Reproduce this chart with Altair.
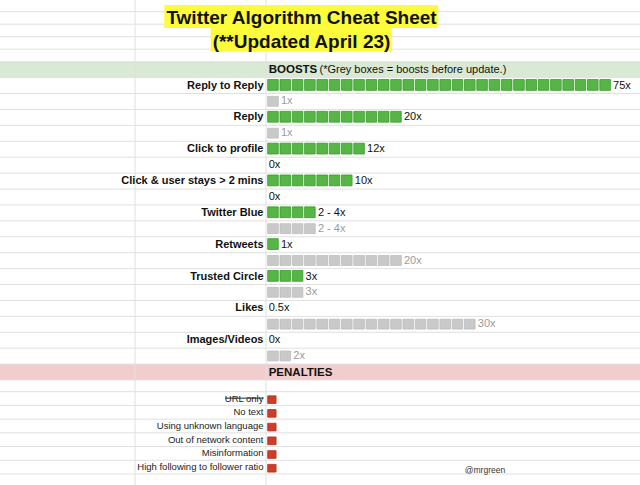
import altair as alt
import pandas as pd

# ---------------- data ----------------
title_lines = ["Twitter Algorithm Cheat Sheet", "(**Updated April 23)"]
boost_header = "BOOSTS"
boost_note = "(*Grey boxes = boosts before update.)"
boost_labels = ["Reply to Reply", "Reply", "Click to profile",
                "Click & user stays > 2 mins", "Twitter Blue", "Retweets",
                "Trusted Circle", "Likes", "Images/Videos"]
new_boxes = [28, 11, 8, 7, 4, 1, 3, 0, 0]
new_text = ["75x", "20x", "12x", "10x", "2 - 4x", "1x", "3x", "0.5x", "0x"]
old_boxes = [1, 1, 0, 0, 4, 11, 3, 17, 2]
old_text = ["1x", "1x", "0x", "0x", "2 - 4x", "20x", "3x", "30x", "2x"]
penalty_header = "PENALTIES"
penalty_labels = ["URL only", "No text", "Using unknown language",
                  "Out of network content", "Misinformation",
                  "High following to follower ratio"]
struck_label = "URL only"
credit = "@mrgreen"

# ---------------- layout (sheet geometry) ----------------
W, H = 640, 485
BOX0_PX = 267.7      # left edge of first box column
PITCH = 12.3         # px per box


def u(px):
    return (px - BOX0_PX) / PITCH


x_scale = alt.Scale(domain=[u(0), u(W)], range=[0, W], nice=False, zero=False)
# sheet rows: 5 title rows, 20 boost rows, 8 penalty rows (piecewise row heights)
y_scale = alt.Scale(domain=[0, 5, 25, 26, 33],
                    range=[-0.8, 61.7, 380, 391.7, 487.7], nice=False, zero=False)

FONT = "Liberation Sans"
BOOST_TOP = 6     # first label row
GREEN_ROW = 5
PINK_ROW = 24
PEN_TOP = 26

X = lambda f: alt.X(f, type="quantitative", scale=x_scale, axis=None)
Y = lambda f: alt.Y(f, type="quantitative", scale=y_scale, axis=None)

# ---------------- tables ----------------
bands = pd.DataFrame({
    "x": [u(0), u(0)], "x2": [u(W), u(W)],
    "y": [GREEN_ROW, PINK_ROW], "y2": [GREEN_ROW + 1, PINK_ROW + 1],
    "c": ["#d9e9d3", "#f2cdcd"],
})

hlines = pd.DataFrame({"y": list(range(1, 33))})
hlines["x"] = u(0)
hlines["x2"] = u(W)
vlines = pd.DataFrame({"x": [u(135), u(266)], "y": [0, 0], "y2": [33, 33]})

highlight = pd.DataFrame({
    "x": [u(164.3), u(210.7)], "x2": [u(438.3), u(391.7)],
    "y": [0.46, 2.3], "y2": [2.3, 4.2],
})
titles = pd.DataFrame({"x": [u(301.5), u(301.5)], "y": [1.5, 3.42], "t": title_lines})

boxes = []
for i in range(len(boost_labels)):
    r = BOOST_TOP + 2 * i
    for j in range(new_boxes[i]):
        boxes.append({"x": j, "x2": j + 0.86, "y": r + 0.12, "y2": r + 0.8, "k": "new"})
    for j in range(old_boxes[i]):
        boxes.append({"x": j, "x2": j + 0.86, "y": r + 1 + 0.18, "y2": r + 1 + 0.8, "k": "old"})
for i in range(len(penalty_labels)):
    r = PEN_TOP + i
    boxes.append({"x": 0, "x2": 0.68, "y": r + 0.3, "y2": r + 0.86, "k": "pen"})
boxes = pd.DataFrame(boxes)

labels = pd.DataFrame({"t": boost_labels,
                       "y": [BOOST_TOP + 2 * i + 0.5 for i in range(len(boost_labels))]})
labels["x"] = u(263.5)

vals = []
for i in range(len(boost_labels)):
    r = BOOST_TOP + 2 * i
    vals.append({"x": new_boxes[i], "y": r + 0.5, "t": new_text[i], "c": "#111111"})
    vals.append({"x": old_boxes[i], "y": r + 1.5, "t": old_text[i],
                 "c": "#9b9b9b" if old_boxes[i] > 0 else "#111111"})
vals = pd.DataFrame(vals)

headers = pd.DataFrame({"x": [0, 0], "y": [GREEN_ROW + 0.5, PINK_ROW + 0.55],
                        "t": [boost_header, penalty_header]})
note = pd.DataFrame({"x": [u(319.5)], "y": [GREEN_ROW + 0.5], "t": [boost_note]})

pen = pd.DataFrame({"t": penalty_labels,
                    "y": [PEN_TOP + i + 0.5 for i in range(len(penalty_labels))]})
pen["x"] = u(263.5)
strike_row = PEN_TOP + penalty_labels.index(struck_label)
strike = pd.DataFrame({"x": [u(225.3)], "x2": [u(263.4)], "y": [strike_row + 0.47]})

cred = pd.DataFrame({"x": [u(485)], "y": [31.7], "t": [credit]})

# ---------------- layers ----------------
band_layer = alt.Chart(bands).mark_rect().encode(
    x=X("x"), x2="x2", y=Y("y"), y2="y2", color=alt.Color("c:N", scale=None))
h_layer = alt.Chart(hlines).mark_rule(color="#e0e0e0", strokeWidth=1).encode(
    x=X("x"), x2="x2", y=Y("y"))
v_layer = alt.Chart(vlines).mark_rule(color="#e0e0e0", strokeWidth=1).encode(
    x=X("x"), y=Y("y"), y2="y2")
hl_layer = alt.Chart(highlight).mark_rect(color="#fcfc3c").encode(
    x=X("x"), x2="x2", y=Y("y"), y2="y2")
title_layer = alt.Chart(titles).mark_text(
    font=FONT, fontSize=19, fontWeight="bold", align="center", baseline="middle",
    color="#111111").encode(x=X("x"), y=Y("y"), text="t:N")
box_layer = alt.Chart(boxes).mark_rect(strokeWidth=0.8).encode(
    x=X("x"), x2="x2", y=Y("y"), y2="y2",
    color=alt.Color("k:N", scale=alt.Scale(domain=["new", "old", "pen"],
                                           range=["#55b545", "#c9c9c9", "#cc3d2a"]),
                    legend=None),
    stroke=alt.Stroke("k:N", scale=alt.Scale(domain=["new", "old", "pen"],
                                             range=["#3e9a30", "#bdbdbd", "#b3321f"]),
                      legend=None))
label_layer = alt.Chart(labels).mark_text(
    font=FONT, fontSize=11, fontWeight="bold", align="right", baseline="middle",
    color="#111111").encode(x=X("x"), y=Y("y"), text="t:N")
val_layer = alt.Chart(vals).mark_text(
    font=FONT, fontSize=11, align="left", baseline="middle", dx=1).encode(
    x=X("x"), y=Y("y"), text="t:N", color=alt.Color("c:N", scale=None))
head_layer = alt.Chart(headers).mark_text(
    font=FONT, fontSize=11.5, fontWeight="bold", align="left", baseline="middle",
    dx=1, color="#111111").encode(x=X("x"), y=Y("y"), text="t:N")
note_layer = alt.Chart(note).mark_text(
    font=FONT, fontSize=11, align="left", baseline="middle",
    color="#111111").encode(x=X("x"), y=Y("y"), text="t:N")
pen_layer = alt.Chart(pen).mark_text(
    font=FONT, fontSize=9.5, align="right", baseline="middle",
    color="#222222").encode(x=X("x"), y=Y("y"), text="t:N")
strike_layer = alt.Chart(strike).mark_rule(color="#222222", strokeWidth=1).encode(
    x=X("x"), x2="x2", y=Y("y"))
cred_layer = alt.Chart(cred).mark_text(
    font=FONT, fontSize=8.5, align="center", baseline="middle",
    color="#333333").encode(x=X("x"), y=Y("y"), text="t:N")

chart = alt.layer(
    band_layer, h_layer, v_layer, hl_layer, title_layer, box_layer,
    label_layer, val_layer, head_layer, note_layer, pen_layer,
    strike_layer, cred_layer,
).properties(
    width=W, height=H, padding=0, autosize=alt.AutoSizeParams(type="none"),
    background="white",
).configure_view(stroke=None)

chart.save("out.html", embed_options={"renderer": "svg", "actions": False})
